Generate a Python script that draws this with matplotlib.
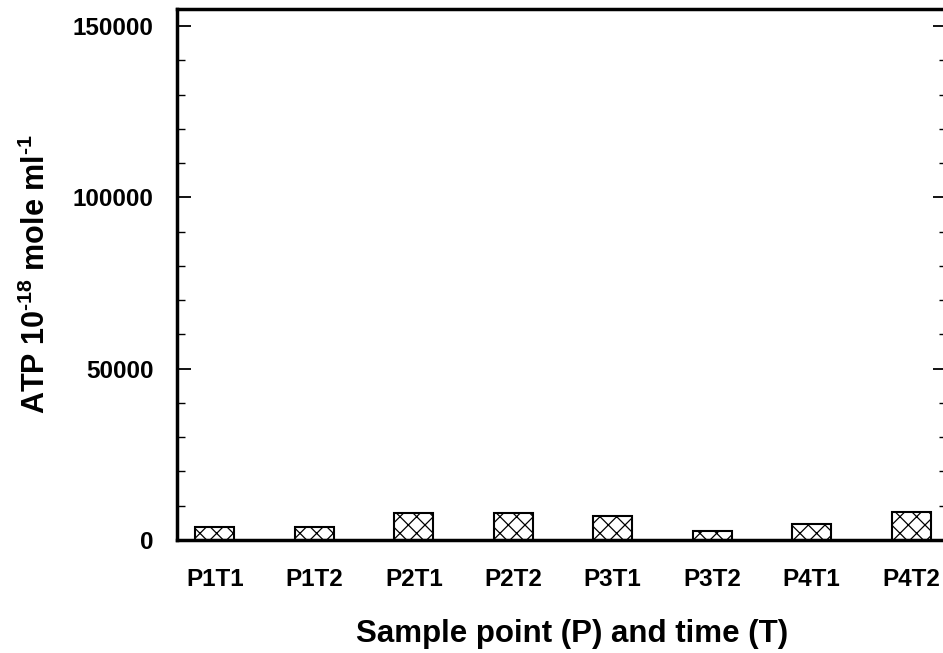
import matplotlib
matplotlib.use("Agg")
from matplotlib import pyplot as plt
from matplotlib.ticker import MultipleLocator

# Datos
muestras = ["P1T1", "P1T2", "P2T1", "P2T2", "P3T1", "P3T2", "P4T1", "P4T2"]
atp = [3800, 3800, 7900, 7900, 7000, 2600, 4700, 8200]

plt.rcParams['font.family'] = ['Liberation Sans', 'DejaVu Sans']
plt.rcParams['font.weight'] = 'bold'
plt.rcParams['hatch.linewidth'] = 0.9
plt.rcParams['mathtext.fontset'] = 'custom'
plt.rcParams['mathtext.rm'] = 'Liberation Sans:bold'
plt.rcParams['mathtext.bf'] = 'Liberation Sans:bold'
plt.rcParams['mathtext.default'] = 'rm'

fig = plt.figure(figsize=(9.43, 6.53), dpi=100)
ax = fig.add_axes([177 / 943, 1 - 540 / 653, (947 - 177) / 943, (540 - 9) / 653])

x = list(range(len(muestras)))
ax.bar(x, atp, width=0.39, color='white', edgecolor='black', linewidth=1.5, hatch='xx')

ax.set_xlim(-0.38, 7.36)
ax.set_ylim(0, 155000)
ax.set_xticks(x)
ax.set_xticklabels(muestras, fontsize=17.5, fontweight='bold')
ax.yaxis.set_major_locator(MultipleLocator(50000))
ax.yaxis.set_minor_locator(MultipleLocator(10000))
ax.tick_params(axis='y', which='major', direction='in', length=10, width=1.3,
               labelsize=17.5, right=True, pad=17)
ax.tick_params(axis='y', which='minor', direction='in', length=6, width=1.0, right=True)
ax.tick_params(axis='x', length=0, pad=20)
for lbl in ax.get_yticklabels():
    lbl.set_fontweight('bold')

for s in ax.spines.values():
    s.set_linewidth(2.5)

ax.set_xlabel('Sample point (P) and time (T)', fontsize=22.5, fontweight='bold')
ax.xaxis.set_label_coords(0.513, -0.148)
ax.set_ylabel(r'ATP 10$^{\text{-18}}$ mole ml$^{\text{-1}}$', fontsize=22,
              fontweight='bold')
ax.yaxis.set_label_coords(-0.162, 0.5)

fig.savefig('out.png', dpi=100)
